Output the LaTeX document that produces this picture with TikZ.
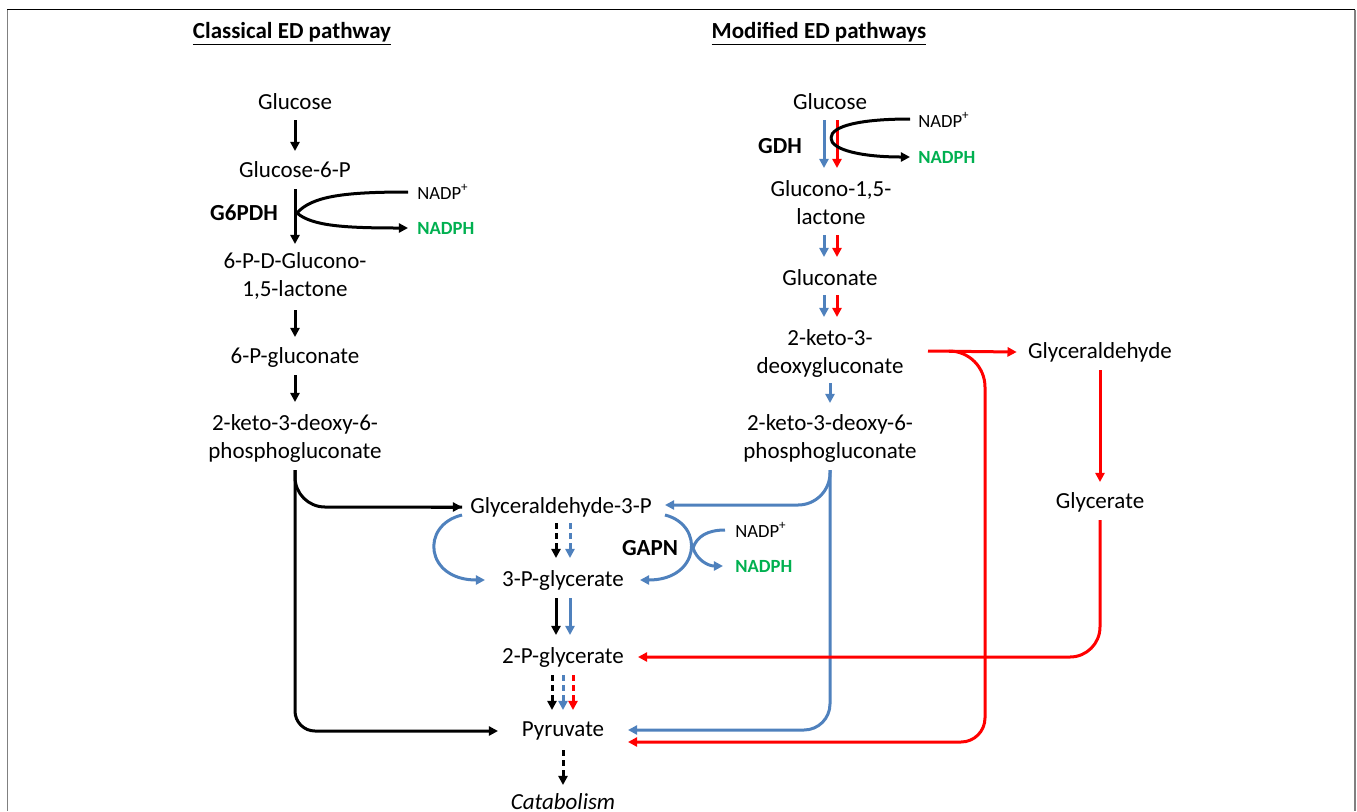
\documentclass[tikz,border=0pt]{standalone}
\usepackage{fontspec}
\setmainfont{Carlito}
\usetikzlibrary{arrows.meta,calc}
\definecolor{eblue}{HTML}{4F81BD}
\definecolor{ered}{HTML}{FF0000}
\definecolor{egreen}{HTML}{00B050}
\begin{document}
\begin{tikzpicture}[x=0.5pt,y=-0.5pt,
  lbl/.style={inner sep=0pt, font=\fontsize{11.5}{14}\selectfont, align=center},
  enz/.style={inner sep=0pt, font=\fontsize{11.5}{14}\selectfont\bfseries},
  ttl/.style={inner sep=0pt, font=\fontsize{11.5}{14}\selectfont\bfseries},
  cof/.style={inner sep=0pt, anchor=west, font=\fontsize{9.3}{11}\selectfont},
  cofg/.style={inner sep=0pt, anchor=west, font=\fontsize{9.3}{11}\selectfont\bfseries, text=egreen},
  conn/.style={line width=1.5pt},
  arr/.style={conn, -{Triangle[length=4.6pt,width=4.6pt]}},
  dsh/.style={arr, dash pattern=on 3pt off 2pt},
]
\useasboundingbox (0,0) rectangle (1357,811);
% frame
\draw[black, line width=0.6pt] (7,9.5) -- (1355,9.5);
\draw[gray, line width=0.8pt] (7.5,9.5) -- (7.5,811);
\draw[gray, line width=0.8pt] (1355,9.5) -- (1355,811);

% titles
\node[ttl] (t1) at (292,34) {\underline{Classical ED pathway}};
\node[ttl] (t2) at (819,34) {\underline{Modified ED pathways}};

% classical column
\node[lbl] (lglc) at (295,102) {Glucose};
\node[lbl] (lg6p) at (295,170) {Glucose-6-P};
\node[enz] (g6pdh) at (244,213) {G6PDH};
\node[cof] (lnadp) at (417,192) {NADP\textsuperscript{+}};
\node[cofg] (lnadph) at (417,228) {NADPH};
\node[lbl] (lgl) at (295,276) {6-P-D-Glucono-\\1,5-lactone};
\node[lbl] (lgn) at (295,357) {6-P-gluconate};
\node[lbl] (lkdpg) at (295,438) {2-keto-3-deoxy-6-\\phosphogluconate};

% middle column
\node[lbl] (g3p) at (561,507) {Glyceraldehyde-3-P};
\node[lbl] (p3g) at (563,580) {3-P-glycerate};
\node[enz] (gapn) at (650,548) {GAPN};
\node[cof] (mnadp) at (735,530) {NADP\textsuperscript{+}};
\node[cofg] (mnadph) at (735,566) {NADPH};
\node[lbl] (p2g) at (563,657) {2-P-glycerate};
\node[lbl] (pyr) at (563,731) {Pyruvate};
\node[lbl, font=\fontsize{11.5}{14}\selectfont\itshape] (cat) at (563,802) {Catabolism};

% modified column
\node[lbl] (rglc) at (830,102) {Glucose};
\node[enz] (gdh) at (780,146) {GDH};
\node[cof] (rnadp) at (918,120) {NADP\textsuperscript{+}};
\node[cofg] (rnadph) at (918,157) {NADPH};
\node[lbl] (rgl) at (831,203) {Glucono-1,5-\\lactone};
\node[lbl] (rgn) at (830,278) {Gluconate};
\node[lbl] (kdg) at (830,353) {2-keto-3-\\deoxygluconate};
\node[lbl] (rkdpg) at (830,438) {2-keto-3-deoxy-6-\\phosphogluconate};
\node[lbl] (glyald) at (1100,352) {Glyceraldehyde};
\node[lbl] (glyc) at (1100,502) {Glycerate};

% junction coordinates
\coordinate (jl) at (297,213);
\coordinate (jm) at (693,548);
\coordinate (jr) at (831,138);

% classical arrows
\draw[arr] ($(lglc)+(0,18)$) -- ($(lg6p)+(0,-19)$);
\draw[arr] ($(lg6p)+(0,19)$) -- ($(lgl)+(0,-32)$);
\draw[arr] ($(lgl)+(0,34)$) -- ($(lgn)+(0,-20)$);
\draw[arr] ($(lgn)+(0,18)$) -- ($(lkdpg)+(0,-36)$);
\draw[conn] ($(lnadp.west)+(-9,0)$) .. controls (345,192) and (312,196) .. (jl);
\draw[arr] (jl) .. controls (312,226) and (345,228) .. ($(lnadph.west)+(-9,0)$);
\draw[conn, rounded corners=15pt] ($(lkdpg)+(0,32)$) |- ($(g3p)+(-99,0)$);
\draw[arr] ($(g3p)+(-130,0)$) -- ($(g3p)+(-99,0)$);
\draw[arr, rounded corners=10pt] ($(lkdpg)+(0,32)$) |- ($(pyr)+(-65,0)$);

% middle arrows
\draw[dsh] ($(g3p)+(-5,16)$) -- ($(p3g)+(-7,-22)$);
\draw[dsh, eblue] ($(g3p)+(9,16)$) -- ($(p3g)+(7,-22)$);
\draw[arr] ($(p3g)+(-7,18)$) -- ($(p2g)+(-7,-22)$);
\draw[arr, eblue] ($(p3g)+(7,18)$) -- ($(p2g)+(7,-22)$);
\draw[dsh] ($(p2g)+(-11,18)$) -- ($(pyr)+(-11,-21)$);
\draw[dsh, eblue] ($(p2g)+(0,18)$) -- ($(pyr)+(0,-21)$);
\draw[dsh, ered] ($(p2g)+(10,18)$) -- ($(pyr)+(10,-21)$);
\draw[dsh] ($(pyr)+(0,19)$) -- ($(cat)+(0,-17)$);
% GAPN loops
\draw[arr, eblue] ($(g3p)+(-99,8)$) .. controls (420,525) and (425,580) .. ($(p3g)+(-78,0)$);
\draw[arr, eblue] ($(g3p)+(104,8)$) .. controls (705,525) and (700,580) .. ($(p3g)+(77,0)$);
\draw[conn, eblue] ($(mnadp.west)+(-10,0)$) .. controls (708,530) and (697,536) .. (jm);
\draw[arr, eblue] (jm) .. controls (697,560) and (708,566) .. ($(mnadph.west)+(-12,0)$);

% modified arrows
\draw[arr, eblue] ($(rglc)+(-6,18)$) -- ($(rgl)+(-7,-35)$);
\draw[arr, ered] ($(rglc)+(7,18)$) -- ($(rgl)+(6,-35)$);
\draw[conn] ($(rnadp.west)+(-8,-1)$) .. controls (860,119) and (831,126) .. (jr);
\draw[arr] (jr) .. controls (831,150) and (862,157) .. ($(rnadph.west)+(-8,0)$);
\draw[arr, eblue] ($(rgl)+(-7,32)$) -- ($(rgn)+(-6,-21)$);
\draw[arr, ered] ($(rgl)+(6,32)$) -- ($(rgn)+(7,-21)$);
\draw[arr, eblue] ($(rgn)+(-6,17)$) -- ($(kdg)+(-6,-36)$);
\draw[arr, ered] ($(rgn)+(7,17)$) -- ($(kdg)+(7,-36)$);
\draw[arr, eblue] ($(kdg)+(0,30)$) -- ($(rkdpg)+(0,-35)$);

% blue branches from 2-keto-3-deoxy-6-phosphogluconate
\draw[arr, eblue, rounded corners=16pt] ($(rkdpg)+(0,32)$) |- ($(g3p)+(104,-2)$);
\draw[arr, eblue, rounded corners=13pt] ($(rkdpg)+(0,32)$) |- ($(pyr)+(65,-1)$);

% red branches
\draw[arr, ered] ($(kdg)+(98,-2)$) -- ($(glyald.west)+(-11,0)$);
\draw[arr, ered] ($(kdg)+(123,-2)$) [rounded corners=18pt] -| (985,560) [rounded corners=12pt] |- ($(pyr)+(65,11)$);
\draw[arr, ered] ($(glyald)+(0,18)$) -- ($(glyc)+(0,-20)$);
\draw[arr, ered, rounded corners=15pt] ($(glyc)+(0,18)$) |- ($(p2g)+(75,0)$);
\end{tikzpicture}
\end{document}
